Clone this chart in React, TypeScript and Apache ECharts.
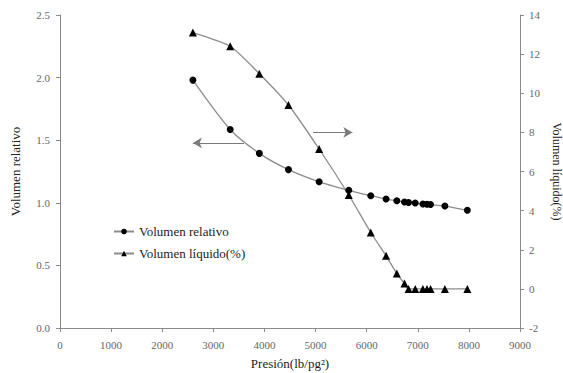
import React, { useEffect, useRef } from "react";
import * as echarts from "echarts";

// Presión (lb/pg²) at each measurement
const presion = [2600, 3330, 3900, 4470, 5070, 5650, 6080, 6380, 6590, 6740, 6820, 6950, 7100, 7180, 7250, 7530, 7970];
// Volumen relativo at each pressure
const volumenRelativo = [1.98, 1.585, 1.395, 1.265, 1.168, 1.10, 1.057, 1.03, 1.017, 1.006, 1.002, 0.998, 0.99, 0.988, 0.986, 0.974, 0.94];
// Volumen líquido (%) at each pressure
const volumenLiquido = [13.1, 12.4, 11.0, 9.4, 7.15, 4.8, 2.88, 1.69, 0.78, 0.27, 0, 0, 0, 0, 0, 0, 0];

const xTicks = { min: 0, max: 9000, interval: 1000 };
const leftTicks = { min: 0, max: 2.5, interval: 0.5 };
const rightTicks = { min: -2, max: 14, interval: 2 };

const FONT = "'Liberation Serif', 'Times New Roman', serif";
const AXIS_COLOR = "#8a8a8a";
const LINE_COLOR = "#8c8c8c";

export default function App() {
  const ref = useRef<HTMLDivElement>(null);

  useEffect(() => {
    if (!ref.current) return;
    const chart = echarts.init(ref.current, undefined, { renderer: "svg" });

    const axisCommon = {
      axisLine: { show: true, lineStyle: { color: AXIS_COLOR, width: 1 } },
      axisTick: { show: true, inside: false, length: 4, lineStyle: { color: AXIS_COLOR } },
      splitLine: { show: false },
      axisLabel: { fontFamily: FONT, fontSize: 11, color: "#666" },
      nameTextStyle: { fontFamily: FONT, fontSize: 13, color: "#222" },
    };

    chart.setOption({
      animation: false,
      backgroundColor: "#fff",
      grid: { left: 60, right: 43, top: 15, bottom: 45, outerBoundsMode: "none", containLabel: false },
      legend: {
        orient: "vertical",
        left: 108,
        top: 220,
        itemWidth: 20,
        itemHeight: 7,
        itemGap: 9,
        textStyle: { fontFamily: FONT, fontSize: 13, color: "#222" },
        data: ["Volumen relativo", "Volumen líquido(%)"],
      },
      xAxis: {
        type: "value",
        ...xTicks,
        ...axisCommon,
        axisLabel: { ...axisCommon.axisLabel, margin: 11, formatter: (v: number) => String(v) },
        name: "Presión(lb/pg²)",
        nameLocation: "middle",
        nameGap: 29,
      },
      yAxis: [
        {
          type: "value",
          position: "left",
          ...leftTicks,
          ...axisCommon,
          axisLabel: { ...axisCommon.axisLabel, margin: 10, formatter: (v: number) => v.toFixed(1) },
          name: "Volumen relativo",
          nameLocation: "middle",
          nameGap: 38,
        },
        {
          type: "value",
          position: "right",
          ...rightTicks,
          ...axisCommon,
          axisLabel: { ...axisCommon.axisLabel, margin: 9 },
          name: "Volumen líquido(%)",
          nameLocation: "middle",
          nameRotate: -90,
          nameGap: 24,
          nameTextStyle: { fontFamily: FONT, fontSize: 12, color: "#222" },
        },
      ],
      series: [
        {
          name: "Volumen relativo",
          type: "line",
          yAxisIndex: 0,
          data: presion.map((p, i) => [p, volumenRelativo[i]]),
          smooth: 0.25,
          symbol: "circle",
          symbolSize: 7,
          itemStyle: { color: "#000" },
          lineStyle: { color: LINE_COLOR, width: 1.3 },
          markLine: {
            silent: true,
            symbol: ["none", "arrow"],
            symbolSize: [8, 9],
            label: { show: false },
            lineStyle: { color: "#7a7a7a", width: 1.2, type: "solid" },
            data: [[{ coord: [3600, 1.478] }, { coord: [2600, 1.478] }]],
          },
        },
        {
          name: "Volumen líquido(%)",
          type: "line",
          yAxisIndex: 1,
          data: presion.map((p, i) => [p, volumenLiquido[i]]),
          smooth: 0.2,
          symbol: "triangle",
          symbolSize: 8,
          itemStyle: { color: "#000" },
          lineStyle: { color: LINE_COLOR, width: 1.3 },
          markLine: {
            silent: true,
            symbol: ["none", "arrow"],
            symbolSize: [8, 9],
            label: { show: false },
            lineStyle: { color: "#7a7a7a", width: 1.2, type: "solid" },
            data: [[{ coord: [4950, 8.0] }, { coord: [5720, 8.0] }]],
          },
        },
      ],
    });

    return () => chart.dispose();
  }, []);

  return <div ref={ref} style={{ width: 563, height: 373, position: "absolute", left: 0, top: 0 }} />;
}
